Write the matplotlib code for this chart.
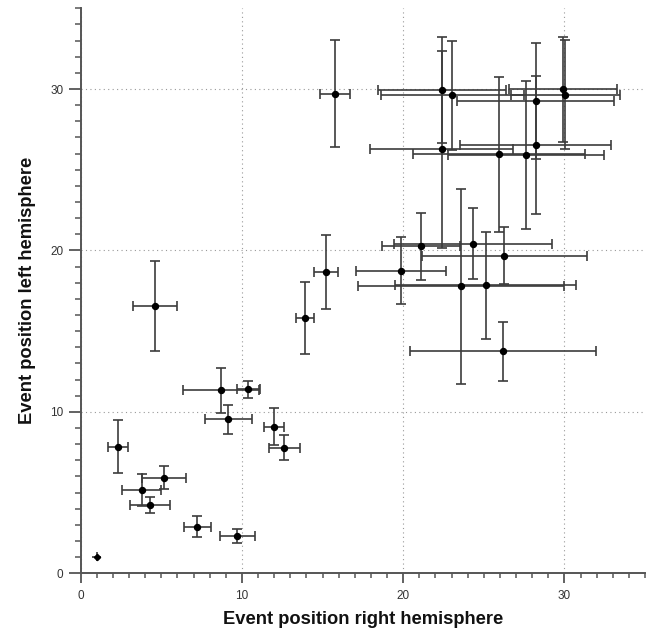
import matplotlib
matplotlib.use("Agg")
import matplotlib.pyplot as plt
from matplotlib.ticker import MultipleLocator

# Event positions (right hemisphere = x, left hemisphere = y) with symmetric errors
x_right = [0.99, 2.33, 4.61, 3.78, 4.30, 5.17, 7.24, 9.72, 8.70, 10.40, 9.16,
           12.01, 12.63, 13.91, 15.22, 15.78, 22.39, 23.05, 29.90, 30.06, 28.22,
           28.22, 22.39, 25.95, 27.61, 21.09, 24.32, 26.26, 19.87, 23.59, 25.12,
           26.20]
y_left = [1.03, 7.85, 16.54, 5.17, 4.24, 5.93, 2.89, 2.31, 11.33, 11.41, 9.55,
          9.08, 7.79, 15.82, 18.65, 29.71, 29.94, 29.61, 29.98, 29.65, 29.26,
          26.51, 26.26, 25.95, 25.91, 20.26, 20.41, 19.68, 18.75, 17.78, 17.84,
          13.75]
x_err = [0.27, 0.62, 1.34, 1.21, 1.24, 1.38, 0.85, 1.06, 2.33, 0.73, 1.45,
         0.63, 0.96, 0.54, 0.75, 0.93, 3.98, 4.44, 3.36, 3.40, 4.86,
         4.70, 4.45, 5.32, 4.84, 2.42, 4.90, 5.12, 2.79, 6.40, 5.60,
         5.75]
y_err = [0.27, 1.65, 2.80, 1.00, 0.48, 0.73, 0.67, 0.43, 1.38, 0.52, 0.89,
         1.16, 0.80, 2.22, 2.28, 3.31, 3.28, 3.39, 3.26, 3.38, 3.60,
         4.27, 6.08, 4.82, 4.60, 2.09, 2.20, 1.76, 2.08, 6.05, 3.31,
         1.82]

x_label = "Event position right hemisphere"
y_label = "Event position left hemisphere"
major_ticks = [0, 10, 20, 30]

plt.rcParams['font.family'] = ['Liberation Sans', 'DejaVu Sans']

fig = plt.figure(figsize=(6.58, 6.32), dpi=100)
ax = fig.add_axes([80.7 / 658, (632 - 573.3) / 632, (645 - 80.7) / 658, 565 / 632])

# the tiny first event: short bars without caps (looks like a small diamond)
ax.errorbar(x_right[:1], y_left[:1], xerr=x_err[:1], yerr=y_err[:1], fmt='D',
            color='black', ms=3.2, ecolor='#3c3c3c', elinewidth=1.2, capsize=0,
            zorder=3)
ax.errorbar(x_right[1:], y_left[1:], xerr=x_err[1:], yerr=y_err[1:], fmt='o',
            color='black', ms=4.3, ecolor='#3c3c3c', elinewidth=1.2, capsize=3.6,
            capthick=1.2, zorder=3)

ax.set_xlim(0, 35)
ax.set_ylim(0, 35)
ax.set_xticks(major_ticks)
ax.set_yticks(major_ticks)
ax.xaxis.set_minor_locator(MultipleLocator(1))
ax.yaxis.set_minor_locator(MultipleLocator(1))

for s in ['top', 'right']:
    ax.spines[s].set_visible(False)
for s in ['left', 'bottom']:
    ax.spines[s].set_color('#555555')
    ax.spines[s].set_linewidth(1.4)

ax.tick_params(axis='x', which='major', direction='out', length=7.2, width=1.3,
               color='#555555', labelsize=8.5, labelcolor='#333333', pad=5)
ax.tick_params(axis='x', which='minor', direction='out', length=3.6, width=1.1,
               color='#555555')
ax.tick_params(axis='y', which='major', direction='out', length=8.3, width=1.3,
               color='#555555', labelsize=8.5, labelcolor='#333333', pad=4)
ax.tick_params(axis='y', which='minor', direction='out', length=4.3, width=1.1,
               color='#555555')

ax.grid(True, which='major', color='#999999', linestyle=(0, (1, 3)), linewidth=0.8)
ax.set_axisbelow(True)

ax.set_xlabel(x_label, fontsize=13.2, fontweight='bold', color='#111111', labelpad=6)
ax.set_ylabel(y_label, fontsize=13.2, fontweight='bold', color='#111111', labelpad=10)

fig.savefig("out.png", dpi=100)
